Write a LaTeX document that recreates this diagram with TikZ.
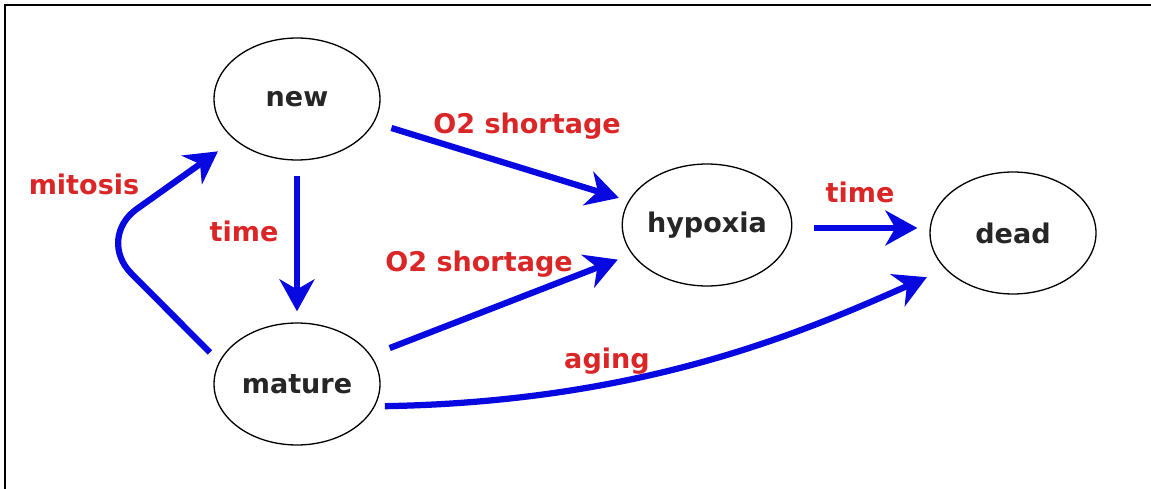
\documentclass[tikz,border=0pt]{standalone}
\usepackage{fontspec}
\setmainfont{DejaVu Sans}
\usetikzlibrary{arrows.meta,shapes.geometric}
\definecolor{arrowblue}{RGB}{8,8,225}
\definecolor{labelred}{RGB}{218,38,38}
\tikzset{
  state/.style={ellipse,draw=black,line width=0.75pt,minimum width=3.32cm,
    minimum height=2.44cm,inner sep=0pt,text=black!85,
    font=\fontsize{15.4}{18}\selectfont\bfseries},
  flow/.style={-{Stealth[length=0.64cm,width=0.7cm,inset=0.2cm]},
    draw=arrowblue,line width=0.125cm},
  lbl/.style={anchor=base,inner sep=0pt,text=labelred,
    font=\fontsize{15.4}{18}\selectfont\bfseries}
}
\begin{document}
\begin{tikzpicture}[x=0.02cm,y=-0.02cm]
  \useasboundingbox (0,0) rectangle (1151,489);
  \draw[line width=0.04cm] (5,489) -- (5,5) -- (1151,5);

  \foreach \n/\x/\y in {new/297/99,mature/297/384,hypoxia/707/225,dead/1013/233}
  \node[state] (\n) at (\x,\y) {\n};

  \coordinate (bend) at (96,238);

  \draw[flow,shorten <=0.36cm,shorten >=0.2cm] (new) -- (hypoxia);
  \draw[flow,shorten <=0.4cm,shorten >=0.3cm] (mature) -- (hypoxia);
  \draw[flow,shorten <=0.3cm,shorten >=0.22cm] (new) -- (mature);
  \draw[flow,shorten <=0.44cm,shorten >=0.24cm] (hypoxia.-2) -- (hypoxia.-2 -| dead.west);
  \draw[flow,rounded corners=1cm,shorten <=0.26cm,shorten >=0.4cm]
    (mature.164) -- (bend) -- (new.213);
  \draw[flow,shorten <=0.2cm,shorten >=0.4cm]
    (mature.-16) to[out=1,in=204,out looseness=1.15,in looseness=0.7] (dead.208);

  \node[lbl] (mitosislbl) at (84,195) {mitosis};
  \node[lbl] (timeleft) at (244,242) {time};
  \node[lbl] (shortagetop) at (527,134) {O2 shortage};
  \node[lbl] (shortagelow) at (479,272) {O2 shortage};
  \node[lbl] (timeright) at (860,203) {time};
  \node[lbl] (aginglbl) at (607,368) {aging};
\end{tikzpicture}
\end{document}
